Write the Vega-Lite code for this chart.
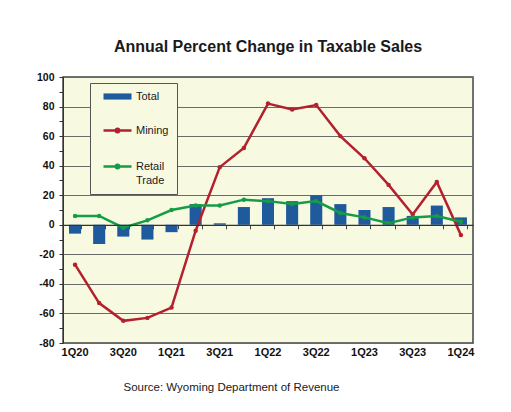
{
  "$schema": "https://vega.github.io/schema/vega-lite/v6.json",
  "width": 410,
  "height": 266,
  "autosize": "none",
  "padding": {"left": 63, "top": 77, "right": 38, "bottom": 69},
  "background": "#FFFFFF",
  "title": {
    "text": "Annual Percent Change in Taxable Sales",
    "font": "Liberation Sans",
    "fontSize": 16,
    "fontWeight": "bold",
    "color": "#1a1a1a",
    "anchor": "middle",
    "offset": 17
  },
  "data": {
    "values": [
      {"q": "1Q20", "series": "Total", "value": -6},
      {"q": "2Q20", "series": "Total", "value": -13},
      {"q": "3Q20", "series": "Total", "value": -8},
      {"q": "4Q20", "series": "Total", "value": -10},
      {"q": "1Q21", "series": "Total", "value": -5},
      {"q": "2Q21", "series": "Total", "value": 14},
      {"q": "3Q21", "series": "Total", "value": 1},
      {"q": "4Q21", "series": "Total", "value": 12},
      {"q": "1Q22", "series": "Total", "value": 18},
      {"q": "2Q22", "series": "Total", "value": 16},
      {"q": "3Q22", "series": "Total", "value": 20},
      {"q": "4Q22", "series": "Total", "value": 14},
      {"q": "1Q23", "series": "Total", "value": 10},
      {"q": "2Q23", "series": "Total", "value": 12},
      {"q": "3Q23", "series": "Total", "value": 6},
      {"q": "4Q23", "series": "Total", "value": 13},
      {"q": "1Q24", "series": "Total", "value": 5},
      {"q": "1Q20", "series": "Mining", "value": -27},
      {"q": "2Q20", "series": "Mining", "value": -53},
      {"q": "3Q20", "series": "Mining", "value": -65},
      {"q": "4Q20", "series": "Mining", "value": -63},
      {"q": "1Q21", "series": "Mining", "value": -56},
      {"q": "2Q21", "series": "Mining", "value": -4},
      {"q": "3Q21", "series": "Mining", "value": 39},
      {"q": "4Q21", "series": "Mining", "value": 52},
      {"q": "1Q22", "series": "Mining", "value": 82},
      {"q": "2Q22", "series": "Mining", "value": 78},
      {"q": "3Q22", "series": "Mining", "value": 81},
      {"q": "4Q22", "series": "Mining", "value": 60},
      {"q": "1Q23", "series": "Mining", "value": 45},
      {"q": "2Q23", "series": "Mining", "value": 27},
      {"q": "3Q23", "series": "Mining", "value": 7},
      {"q": "4Q23", "series": "Mining", "value": 29},
      {"q": "1Q24", "series": "Mining", "value": -7},
      {"q": "1Q20", "series": "Retail Trade", "value": 6},
      {"q": "2Q20", "series": "Retail Trade", "value": 6},
      {"q": "3Q20", "series": "Retail Trade", "value": -2},
      {"q": "4Q20", "series": "Retail Trade", "value": 3},
      {"q": "1Q21", "series": "Retail Trade", "value": 10},
      {"q": "2Q21", "series": "Retail Trade", "value": 13},
      {"q": "3Q21", "series": "Retail Trade", "value": 13},
      {"q": "4Q21", "series": "Retail Trade", "value": 17},
      {"q": "1Q22", "series": "Retail Trade", "value": 16},
      {"q": "2Q22", "series": "Retail Trade", "value": 14},
      {"q": "3Q22", "series": "Retail Trade", "value": 16},
      {"q": "4Q22", "series": "Retail Trade", "value": 8},
      {"q": "1Q23", "series": "Retail Trade", "value": 5},
      {"q": "2Q23", "series": "Retail Trade", "value": 1},
      {"q": "3Q23", "series": "Retail Trade", "value": 5},
      {"q": "4Q23", "series": "Retail Trade", "value": 6},
      {"q": "1Q24", "series": "Retail Trade", "value": 2}
    ]
  },
  "encoding": {
    "x": {
      "field": "q",
      "type": "ordinal",
      "sort": null,
      "scale": {"type": "band", "paddingInner": 0.5, "paddingOuter": 0.25}
    },
    "y": {
      "field": "value",
      "type": "quantitative",
      "scale": {"domain": [-80, 100], "nice": false, "zero": false},
      "axis": {
        "title": null,
        "values": [-80, -70, -60, -50, -40, -30, -20, -10, 0, 10, 20, 30, 40, 50, 60, 70, 80, 90, 100],
        "labelExpr": "datum.value % 20 === 0 ? '' + datum.value : ''",
        "gridOpacity": {"condition": {"test": "datum.value % 20 !== 0", "value": 0}, "value": 1},
        "gridColor": "#6a6a6a",
        "gridWidth": 1,
        "domainColor": "#333333",
        "tickColor": "#333333",
        "tickSize": 4,
        "labelPadding": 5,
        "labelFont": "Liberation Sans",
        "labelFontSize": 10.5,
        "labelFontWeight": "bold",
        "labelColor": "#111111"
      }
    },
    "color": {
      "field": "series",
      "type": "nominal",
      "scale": {"domain": ["Total", "Mining", "Retail Trade"], "range": ["#1F5A9C", "#B3212E", "#169C45"]},
      "legend": {
        "title": null,
        "orient": "none",
        "legendX": 27,
        "legendY": 6,
        "direction": "vertical",
        "padding": 8,
        "strokeColor": "#555555",
        "fillColor": "#F7F9E1",
        "symbolSize": 784,
        "symbolStrokeWidth": 2.5,
        "symbolOffset": 14,
        "rowPadding": 21,
        "labelFont": "Liberation Sans",
        "labelFontSize": 11,
        "labelColor": "#1a1a1a",
        "labelOffset": 13,
        "labelExpr": "datum.label === 'Retail Trade' ? ['Retail', 'Trade'] : datum.label",
        "encode": {
          "symbols": {
            "update": {
              "shape": {"signal": "datum.value === 'Total' ? 'M-1,-0.22H1V0.22H-1Z' : 'M-1,0H1M-0.12,0A0.12,0.12 0 1 1 0.12,0A0.12,0.12 0 1 1 -0.12,0'"},
              "fill": {"signal": "datum.value === 'Total' ? '#1F5A9C' : 'transparent'"},
              "stroke": {"scale": "color", "field": "value"},
              "strokeWidth": {"signal": "datum.value === 'Total' ? 0 : 2.5"},
              "opacity": {"value": 1}
            }
          },
          "labels": {
            "update": {
              "lineHeight": {"value": 14},
              "baseline": {"value": "middle"}
            }
          }
        }
      }
    }
  },
  "layer": [
    {
      "transform": [{"filter": "datum.series === 'Total'"}],
      "mark": {"type": "bar"},
      "encoding": {
        "x": {
          "field": "q",
          "type": "ordinal",
          "sort": null,
          "axis": {
            "orient": "bottom",
            "title": null,
            "labels": false,
            "offset": -118.2,
            "domainColor": "#333333",
            "domainWidth": 1.2,
            "tickColor": "#444444",
            "tickSize": 4,
            "tickBand": "extent",
            "grid": false,
            "zindex": 1
          }
        }
      }
    },
    {
      "transform": [{"filter": "datum.series !== 'Total'"}],
      "mark": {"type": "line", "strokeWidth": 2.5, "point": {"size": 20, "filled": true}},
      "encoding": {
        "x": {
          "field": "q",
          "type": "ordinal",
          "sort": null,
          "axis": {
            "orient": "bottom",
            "title": "Source: Wyoming Department of Revenue",
            "titleFont": "Liberation Sans",
            "titleFontSize": 11.5,
            "titleFontWeight": "normal",
            "titleColor": "#1a1a1a",
            "titleX": 168,
            "titleAlign": "center",
            "titlePadding": 24,
            "values": ["1Q20", "3Q20", "1Q21", "3Q21", "1Q22", "3Q22", "1Q23", "3Q23", "1Q24"],
            "labelAngle": 0,
            "labelFont": "Liberation Sans",
            "labelFontSize": 11,
            "labelFontWeight": "bold",
            "labelColor": "#111111",
            "labelPadding": 3,
            "ticks": false,
            "domain": false,
            "grid": false
          }
        }
      }
    }
  ],
  "resolve": {"axis": {"x": "independent"}},
  "config": {
    "view": {"fill": "#F7F9E1", "stroke": "#444444", "strokeWidth": 1.5},
    "font": "Liberation Sans"
  }
}
